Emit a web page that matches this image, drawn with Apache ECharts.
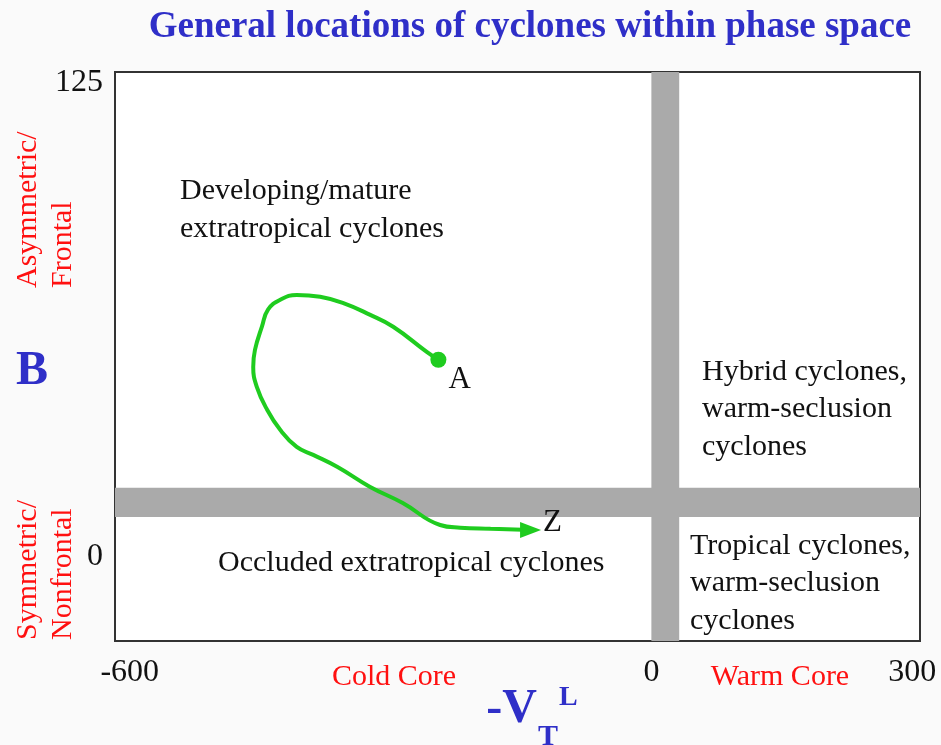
<!DOCTYPE html>
<html>
<head>
<meta charset="utf-8">
<script src="https://cdn.jsdelivr.net/npm/echarts@6/dist/echarts.min.js"></script>
<style>html,body{margin:0;padding:0;background:#fafafa;}#c{width:941px;height:745px;}</style>
</head>
<body>
<div id="c"></div>
<script>
// ---- data ----
const xTickValues = [-600, 0, 300];
const yTickValues = [0, 125];
// trajectory A -> Z (x = -VTL, y = B)
const trackX = [-245, -258, -297, -324, -355, -381, -408, -427, -441, -448, -456, -458, -454, -442, -427, -408, -389, -361, -324, -286, -243, -220, -185, -139];
const trackY = [52, 54, 60.7, 63.9, 67, 68.6, 69.1, 67.8, 65.2, 60.7, 54.6, 50.1, 44.9, 38.8, 33.5, 29, 26.9, 23.7, 18.5, 14.2, 8.4, 7.7, 7.4, 7.1];
const pointLabels = ['A', 'Z'];
const warmColdBand = [0, 32];      // vertical threshold band on -VTL
const frontalBand = [10.5, 18.2];  // horizontal threshold band on B
const regionTexts = [
  'Developing/mature\nextratropical cyclones',
  'Hybrid cyclones,\nwarm-seclusion\ncyclones',
  'Tropical cyclones,\nwarm-seclusion\ncyclones',
  'Occluded extratropical cyclones'
];

const SERIF = '"Liberation Serif", "DejaVu Serif", serif';
const BLUE = '#2f2fc8';
const RED = '#ff1010';
const GREEN = '#1fcc1f';

const trackData = trackX.map((x, i) => {
  const item = { value: [x, trackY[i]] };
  if (i === 0) {
    item.symbol = 'circle';
    item.symbolSize = 16;
    item.label = { show: true, formatter: pointLabels[0], position: 'right', distance: 2, offset: [0, 20],
      fontFamily: SERIF, fontSize: 31, color: '#111' };
  }
  if (i === trackX.length - 1) {
    item.symbol = 'triangle';
    item.symbolSize = [16, 21];
    item.symbolRotate = -90;
    item.label = { show: true, formatter: pointLabels[1], position: 'right', distance: 2, offset: [0, -7],
      fontFamily: SERIF, fontSize: 31, color: '#111' };
  }
  return item;
});

const chart = echarts.init(document.getElementById('c'), null, { renderer: 'canvas' });
chart.setOption({
  animation: false,
  backgroundColor: '#fafafa',
  title: {
    text: 'General locations of cyclones within phase space',
    left: 525, top: 4, textAlign: 'center',
    textStyle: { fontFamily: SERIF, fontSize: 37, fontWeight: 'bold', color: BLUE }
  },
  grid: { left: 115, right: 21, top: 72, bottom: 104, show: true, backgroundColor: '#ffffff',
    borderColor: '#333', borderWidth: 2 },
  xAxis: {
    type: 'value', min: -617, max: 309,
    splitLine: { show: false },
    axisLine: { show: false },
    axisTick: { show: false },
    axisLabel: { customValues: xTickValues, margin: 16, fontFamily: SERIF, fontSize: 32, color: '#111',
      showMinLabel: true, showMaxLabel: true }
  },
  yAxis: {
    type: 'value', min: -22.2, max: 127.9,
    splitLine: { show: false },
    axisLine: { show: false },
    axisTick: { show: false },
    axisLabel: { customValues: yTickValues, margin: 12, fontFamily: SERIF, fontSize: 32, color: '#111',
      showMinLabel: true, showMaxLabel: true }
  },
  series: [
    {
      type: 'scatter', z: 1, silent: true, symbolSize: 0, data: [[0, 0]],
      markArea: {
        silent: true,
        itemStyle: { color: '#aaaaaa', opacity: 1 },
        data: [
          [{ xAxis: warmColdBand[0] }, { xAxis: warmColdBand[1] }],
          [{ yAxis: frontalBand[0] }, { yAxis: frontalBand[1] }]
        ]
      }
    },
    {
      type: 'line', z: 5, silent: true, smooth: 0.45, symbol: 'none', showSymbol: true,
      lineStyle: { color: GREEN, width: 4 },
      itemStyle: { color: GREEN },
      data: trackData
    }
  ],
  graphic: [
    { type: 'text', x: 180, y: 172, style: { text: regionTexts[0], fontFamily: SERIF, fontSize: 30, lineHeight: 38, fill: '#111', textAlign: 'left', textVerticalAlign: 'top' } },
    { type: 'text', x: 702, y: 353, style: { text: regionTexts[1], fontFamily: SERIF, fontSize: 30, lineHeight: 37.5, fill: '#111', textAlign: 'left', textVerticalAlign: 'top' } },
    { type: 'text', x: 690, y: 527, style: { text: regionTexts[2], fontFamily: SERIF, fontSize: 30, lineHeight: 37.5, fill: '#111', textAlign: 'left', textVerticalAlign: 'top' } },
    { type: 'text', x: 218, y: 563, style: { text: regionTexts[3], fontFamily: SERIF, fontSize: 30, fill: '#111', textAlign: 'left', textVerticalAlign: 'middle' } },
    { type: 'text', x: 394, y: 677, style: { text: 'Cold Core', fontFamily: SERIF, fontSize: 30, fill: RED, textAlign: 'center', textVerticalAlign: 'middle' } },
    { type: 'text', x: 780, y: 677, style: { text: 'Warm Core', fontFamily: SERIF, fontSize: 30, fill: RED, textAlign: 'center', textVerticalAlign: 'middle' } },
    { type: 'text', x: 32, y: 372, style: { text: 'B', fontFamily: SERIF, fontSize: 48, fontWeight: 'bold', fill: BLUE, textAlign: 'center', textVerticalAlign: 'middle' } },
    { type: 'text', x: 28, y: 288, rotation: Math.PI / 2, style: { text: 'Asymmetric/', fontFamily: SERIF, fontSize: 30, fill: RED, textAlign: 'left', textVerticalAlign: 'middle' } },
    { type: 'text', x: 63, y: 288, rotation: Math.PI / 2, style: { text: 'Frontal', fontFamily: SERIF, fontSize: 30, fill: RED, textAlign: 'left', textVerticalAlign: 'middle' } },
    { type: 'text', x: 28, y: 640, rotation: Math.PI / 2, style: { text: 'Symmetric/', fontFamily: SERIF, fontSize: 30, fill: RED, textAlign: 'left', textVerticalAlign: 'middle' } },
    { type: 'text', x: 63, y: 640, rotation: Math.PI / 2, style: { text: 'Nonfrontal', fontFamily: SERIF, fontSize: 30, fill: RED, textAlign: 'left', textVerticalAlign: 'middle' } },
    { type: 'text', x: 537, y: 734, style: { text: '-V', fontFamily: SERIF, fontSize: 48, fontWeight: 'bold', fill: BLUE, textAlign: 'right', textVerticalAlign: 'bottom' } },
    { type: 'text', x: 538, y: 752, style: { text: 'T', fontFamily: SERIF, fontSize: 30, fontWeight: 'bold', fill: BLUE, textAlign: 'left', textVerticalAlign: 'bottom' } },
    { type: 'text', x: 559, y: 712, style: { text: 'L', fontFamily: SERIF, fontSize: 28, fontWeight: 'bold', fill: BLUE, textAlign: 'left', textVerticalAlign: 'bottom' } }
  ]
});
</script>
</body>
</html>
